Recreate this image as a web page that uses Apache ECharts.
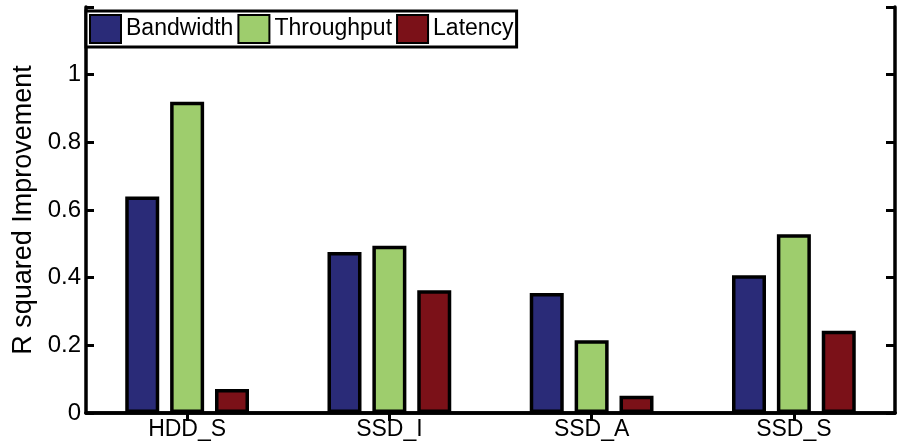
<!DOCTYPE html>
<html>
<head>
<meta charset="utf-8">
<script src="https://cdn.jsdelivr.net/npm/echarts@6/dist/echarts.min.js"></script>
<style>html,body{margin:0;padding:0;background:#fff;}#c{width:898px;height:443px;}</style>
</head>
<body>
<div id="c"></div>
<script>
var categories = ['HDD_S', 'SSD_I', 'SSD_A', 'SSD_S'];
var bandwidth = [0.64, 0.476, 0.355, 0.407];
var throughput = [0.92, 0.494, 0.215, 0.528];
var latency = [0.071, 0.363, 0.051, 0.243];
var seriesNames = ['Bandwidth', 'Throughput', 'Latency'];
var colors = ['#2a2b78', '#9ecd6d', '#7b1118'];

var font = 'Liberation Sans, Arial, sans-serif';
var chart = echarts.init(document.getElementById('c'));
function bar(name, data, color) {
  return {
    name: name, type: 'bar', data: data, barWidth: 34, barGap: '32%',
    itemStyle: { color: color, borderColor: '#000', borderWidth: 3.5 },
    emphasis: { disabled: true }
  };
}
chart.setOption({
  animation: false,
  grid: { left: 86, right: 3, top: 7, bottom: 30, show: false },
  legend: {
    left: 86, top: 11, orient: 'horizontal',
    data: seriesNames,
    icon: 'rect', itemWidth: 31, itemHeight: 28, itemGap: 4,
    padding: [3, 3, 3, 3],
    backgroundColor: '#fff', borderColor: '#000', borderWidth: 3,
    textStyle: { fontFamily: font, fontSize: 23, color: '#000' }
  },
  xAxis: [{
    type: 'category', data: categories, position: 'bottom',
    axisLine: { lineStyle: { color: '#000', width: 3.5 } },
    axisTick: { show: false },
    axisLabel: { fontFamily: font, fontSize: 23, color: '#000', margin: 5 }
  }, {
    type: 'category', data: categories, position: 'top',
    axisLine: { lineStyle: { color: '#000', width: 3.5 } },
    axisTick: { show: true, inside: true, alignWithLabel: true, length: 8, lineStyle: { color: '#000', width: 3 } },
    axisLabel: { show: false }
  }],
  yAxis: [{
    type: 'value', min: 0, max: 1.2, interval: 0.2, position: 'left',
    name: 'R squared Improvement', nameLocation: 'middle', nameGap: 44,
    nameTextStyle: { fontFamily: font, fontSize: 27, color: '#000' },
    axisLine: { show: true, lineStyle: { color: '#000', width: 3.5 } },
    axisTick: { show: true, inside: true, length: 8, lineStyle: { color: '#000', width: 3 } },
    splitLine: { show: false },
    axisLabel: {
      fontFamily: font, fontSize: 24, color: '#000', margin: 5,
      formatter: function (v) { return v > 1.1 ? '' : String(Math.round(v * 10) / 10); }
    }
  }, {
    type: 'value', min: 0, max: 1.2, interval: 0.2, position: 'right',
    axisLine: { show: true, lineStyle: { color: '#000', width: 3.5 } },
    axisTick: { show: true, inside: true, length: 9, lineStyle: { color: '#000', width: 3 } },
    splitLine: { show: false },
    axisLabel: { show: false }
  }],
  series: [
    bar(seriesNames[0], bandwidth, colors[0]),
    bar(seriesNames[1], throughput, colors[1]),
    bar(seriesNames[2], latency, colors[2])
  ]
});
</script>
</body>
</html>
